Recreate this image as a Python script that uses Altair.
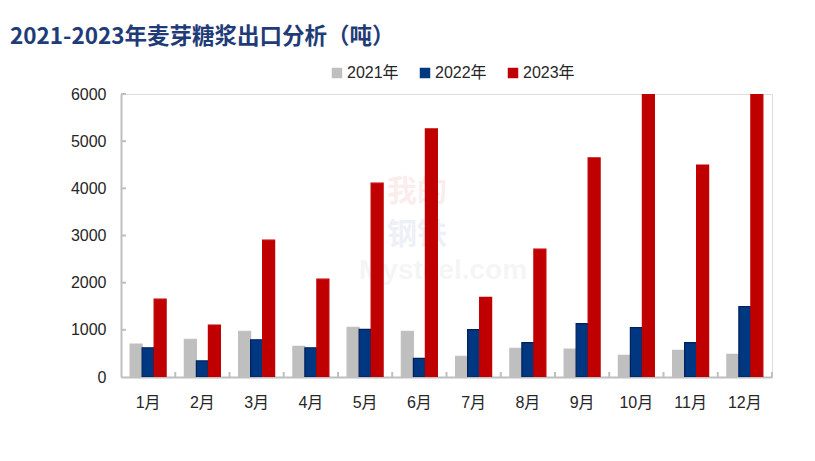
import altair as alt
import pandas as pd

months = ["1月", "2月", "3月", "4月", "5月", "6月", "7月", "8月", "9月", "10月", "11月", "12月"]
years = ["2021年", "2022年", "2023年"]
v2021 = [700, 800, 970, 650, 1055, 970, 440, 610, 590, 460, 565, 480]
v2022 = [620, 340, 790, 620, 1010, 395, 1005, 730, 1130, 1045, 730, 1495]
v2023 = [1650, 1100, 2900, 2075, 4110, 5260, 1690, 2710, 4645, 6000, 4495, 6000]
y_ticks = [1000, 2000, 3000, 4000, 5000, 6000]
fills = ["#BFBFBF", "#003781", "#C00000"]
strokes = ["#BFBFBF", "#001F5C", "#C00000"]
title_text = "2021-2023年麦芽糖浆出口分析（吨）"

rows = []
for y, vals in zip(years, [v2021, v2022, v2023]):
    for m, v in zip(months, vals):
        rows.append({"month": m, "year": y, "value": v})
df = pd.DataFrame(rows)

FONT = "Liberation Sans, Noto Sans CJK SC"

x_scale = alt.Scale(domain=months, paddingInner=0, paddingOuter=0)

bars = alt.Chart(df).mark_bar(strokeWidth=1.2, clip=True).encode(
    x=alt.X("month:N", sort=months, scale=x_scale, title=None,
            axis=alt.Axis(labelAngle=0, ticks=False, domainColor="#BFBFBF", domainWidth=2,
                          labelFontSize=16, labelColor="#262626", labelFont=FONT,
                          labelPadding=17, grid=False)),
    xOffset=alt.XOffset("year:N", sort=years,
                        scale=alt.Scale(domain=years, paddingInner=0, paddingOuter=0.76)),
    y=alt.Y("value:Q", scale=alt.Scale(domain=[0, 6000], nice=False), title=None,
            axis=alt.Axis(values=[0] + y_ticks, format="d", ticks=False, grid=False,
                          domainColor="#BFBFBF", domainWidth=2, labelFontSize=16,
                          labelColor="#262626", labelFont=FONT, labelPadding=15)),
    color=alt.Color("year:N", sort=years, scale=alt.Scale(domain=years, range=fills),
                    legend=alt.Legend(title=None, orient="none", direction="horizontal",
                                      legendX=208, legendY=-29, symbolType="square",
                                      symbolSize=110, symbolStrokeWidth=0,
                                      labelFontSize=16, labelColor="#262626", labelFont=FONT,
                                      columnPadding=18, labelOffset=2)),
    stroke=alt.Stroke("year:N", sort=years, scale=alt.Scale(domain=years, range=strokes),
                      legend=None),
)

xt_df = pd.DataFrame({"month": months})
x_ticks = alt.Chart(xt_df).mark_rule(color="#BFBFBF", strokeWidth=2).encode(
    x=alt.X("month:N", sort=months, bandPosition=1),
    y=alt.value(283),
    y2=alt.value(278),
)

yt_df = pd.DataFrame({"value": y_ticks})
y_tick_marks = alt.Chart(yt_df).mark_rule(color="#BFBFBF", strokeWidth=2).encode(
    y=alt.Y("value:Q"),
    x=alt.value(0),
    x2=alt.value(5),
)

title_df = pd.DataFrame({"t": [title_text]})
title = alt.Chart(title_df).mark_text(
    align="left", baseline="middle", fontSize=22.5, fontWeight="bold",
    font="Noto Sans CJK SC", color="#1F3C78"
).encode(text="t:N", x=alt.value(-111), y=alt.value(-57))

wm_df = pd.DataFrame({"a": ["我的"], "b": ["钢铁"], "c": ["Mysteel.com"]})
wm1 = alt.Chart(wm_df).mark_text(align="left", baseline="middle", fontSize=30, fontWeight="bold",
                                  font="Noto Sans CJK SC", color="#E04040", opacity=0.09
                                  ).encode(text="a:N", x=alt.value(266), y=alt.value(98))
wm2 = alt.Chart(wm_df).mark_text(align="left", baseline="middle", fontSize=30, fontWeight="bold",
                                  font="Noto Sans CJK SC", color="#4060A0", opacity=0.09
                                  ).encode(text="b:N", x=alt.value(266), y=alt.value(141))
wm3 = alt.Chart(wm_df).mark_text(align="left", baseline="middle", fontSize=28, fontWeight="bold",
                                  font="Liberation Sans", color="#909090", opacity=0.08
                                  ).encode(text="c:N", x=alt.value(238), y=alt.value(177))

chart = alt.layer(wm1, wm2, wm3, bars, x_ticks, y_tick_marks, title).properties(
    width=651, height=283,
    autosize=alt.AutoSizeParams(type="none"),
    padding={"left": 113, "top": 86, "right": 30, "bottom": 70},
).configure_view(stroke=None).configure(background="white")

chart.save("out.html", embed_options={"renderer": "svg", "actions": False})
